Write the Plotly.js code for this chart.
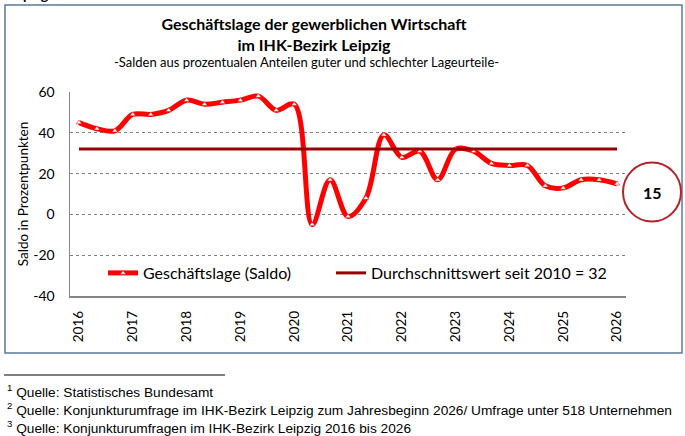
<!DOCTYPE html>
<html>
<head>
<meta charset="utf-8">
<script src="https://cdn.plot.ly/plotly-3.0.1.min.js"></script>
<style>
  html, body { margin: 0; padding: 0; background: #fff; }
  #chart { width: 685px; height: 436px; }
</style>
</head>
<body>
<div id="chart"></div>
<script>
// Geschäftslage (Saldo) per IHK survey wave
var years = [2016, 2017, 2018, 2019, 2020, 2021, 2022, 2023, 2024, 2025, 2026];
var surveys = ["Jahresbeginn", "Frühsommer", "Herbst"];
var saldo = [
  45, 42, 41,   // 2016
  49, 49, 51,   // 2017
  56, 54, 55,   // 2018
  56, 58, 51,   // 2019
  54, -5, 17,   // 2020
  -1, 8, 39,    // 2021
  28, 31, 17,   // 2022
  32, 31, 25,   // 2023
  24, 24, 14,   // 2024
  13, 17, 17,   // 2025
  15            // 2026
];
var avgValue = 32;
var yTicks = [-40, -20, 0, 20, 40, 60];
var gridTicks = [-20, 0, 20, 40];
var footnotes = [
  "<sup>1</sup> Quelle: Statistisches Bundesamt",
  "<sup>2</sup> Quelle: Konjunkturumfrage im IHK-Bezirk Leipzig zum Jahresbeginn 2026/ Umfrage unter 518 Unternehmen",
  "<sup>3</sup> Quelle: Konjunkturumfragen im IHK-Bezirk Leipzig 2016 bis 2026"
];

(function () {
  "use strict";

  var FONT = "Lato, 'Open Sans', sans-serif";
  var RED = "#ff0000", DARKRED = "#990000", CIRCLE = "#b5232a";
  var L = 70, T = 92, W = 556, H = 204;           // plot area in page pixels
  function px(x) { return (x - L) / W; }
  function py(y) { return (T + H - y) / H; }

  var categories = [];
  years.forEach(function (y, i) {
    surveys.forEach(function (s, j) {
      if (i < years.length - 1 || j === 0) { categories.push(y + " " + s); }
    });
  });
  var yearTicks = categories.filter(function (c) { return c.indexOf(surveys[0]) > 0; });

  var traces = [
    {
      x: categories, y: saldo, name: "Geschäftslage (Saldo)",
      type: "scatter", mode: "lines+markers", legendwidth: 183,
      line: { color: RED, width: 5, shape: "spline", smoothing: 1 },
      marker: { symbol: "triangle-up", size: 5, color: "#ffffff", line: { color: RED, width: 0.5 } },
      hoverinfo: "x+y"
    },
    {
      x: categories, y: categories.map(function () { return avgValue; }),
      name: "Durchschnittswert seit 2010 = " + avgValue,
      type: "scatter", mode: "lines", yaxis: "y2", legendwidth: 260,
      line: { color: DARKRED, width: 3 },
      hoverinfo: "skip"
    }
  ];

  var annotations = [
    { text: "-Salden aus prozentualen Anteilen guter und schlechter Lageurteile-",
      xref: "paper", yref: "paper", x: px(306), y: py(62), xanchor: "center", yanchor: "middle",
      showarrow: false, font: { family: FONT, size: 13, color: "#000" } },
    { text: "<b>" + saldo[saldo.length - 1] + "</b>",
      xref: "paper", yref: "paper", x: px(652), y: py(192), xanchor: "center", yanchor: "middle",
      showarrow: false, font: { family: FONT, size: 16, color: "#000" } },
    { text: "<b>Leipzig</b>",
      xref: "paper", yref: "paper", x: px(3), y: py(5), xanchor: "left", yanchor: "bottom",
      showarrow: false, font: { family: FONT, size: 14, color: "#000" } }
  ];
  footnotes.forEach(function (f, i) {
    annotations.push({
      text: f, xref: "paper", yref: "paper", x: px(5), y: py(391 + i * 18),
      xanchor: "left", yanchor: "middle", showarrow: false,
      font: { family: "'Liberation Sans', Arial, sans-serif", size: 13.7, color: "#000" }
    });
  });

  var pixelShape = { xref: "paper", yref: "paper", xsizemode: "pixel", ysizemode: "pixel" };
  function shape(o) { var s = {}; var k; for (k in pixelShape) { s[k] = pixelShape[k]; } for (k in o) { s[k] = o[k]; } return s; }

  var shapes = [
    // outer frame round the chart
    shape({ type: "rect", xanchor: 0, yanchor: 0, x0: 5 - L, x1: 682 - L, y0: (T + H) - 353, y1: (T + H) - 5,
            line: { color: "#5b7a99", width: 1.5 }, fillcolor: "rgba(0,0,0,0)" }),
    // footnote rule
    shape({ type: "line", xanchor: 0, yanchor: 0, x0: 4 - L, x1: 225 - L, y0: (T + H) - 375, y1: (T + H) - 375,
            line: { color: "#000", width: 1 } }),
    // circle round the latest value
    shape({ type: "circle", xanchor: px(652), yanchor: py(192), x0: -29, x1: 29, y0: -29.5, y1: 29.5,
            line: { color: CIRCLE, width: 2 }, fillcolor: "rgba(0,0,0,0)" })
  ];

  var layout = {
    width: 685, height: 436, autosize: false,
    margin: { l: L, r: 685 - L - W, t: T, b: 436 - T - H, pad: 0 },
    font: { family: FONT, color: "#000", size: 14 },
    paper_bgcolor: "#fff", plot_bgcolor: "#fff",
    title: {
      text: "Geschäftslage der gewerblichen Wirtschaft<br>im IHK-Bezirk Leipzig",
      font: { family: FONT, size: 16, weight: "bold", color: "#000" },
      xref: "container", yref: "container", x: 314 / 685, xanchor: "center",
      y: 1 - 30 / 436, yanchor: "top"
    },
    xaxis: {
      type: "category", range: [-0.5, categories.length - 0.5],
      tickmode: "array", tickvals: yearTicks, ticktext: years.map(String),
      tickangle: -90, ticks: "", ticklabelstandoff: 8,
      tickfont: { family: FONT, size: 13.5, color: "#000" },
      showline: true, linecolor: "#868686", linewidth: 1.5,
      showgrid: false, zeroline: false, fixedrange: true
    },
    yaxis: {
      range: [yTicks[0], yTicks[yTicks.length - 1]], tickmode: "array",
      tickvals: yTicks, ticktext: yTicks.map(String),
      ticks: "", ticklabelstandoff: 11,
      tickfont: { family: FONT, size: 14, color: "#000" },
      showline: true, linecolor: "#868686", linewidth: 1.5,
      showgrid: false, zeroline: false, fixedrange: true,
      title: { text: "Saldo in Prozentpunkten", font: { family: FONT, size: 13.5, color: "#000" }, standoff: 1 }
    },
    yaxis2: {
      overlaying: "y", anchor: "x", side: "left",
      range: [yTicks[0], yTicks[yTicks.length - 1]], tickmode: "array", tickvals: gridTicks,
      showticklabels: false, ticks: "", showline: false, zeroline: false,
      showgrid: true, gridcolor: "#808080", gridwidth: 1, griddash: "dot", fixedrange: true
    },
    legend: {
      orientation: "h", x: px(103), xanchor: "left", y: py(273), yanchor: "middle",
      font: { family: FONT, size: 16, color: "#000" }, bgcolor: "rgba(0,0,0,0)",
      traceorder: "normal"
    },
    showlegend: true,
    annotations: annotations,
    shapes: shapes
  };

  Plotly.newPlot("chart", traces, layout, { displayModeBar: false, staticPlot: true });
})();
</script>
</body>
</html>
